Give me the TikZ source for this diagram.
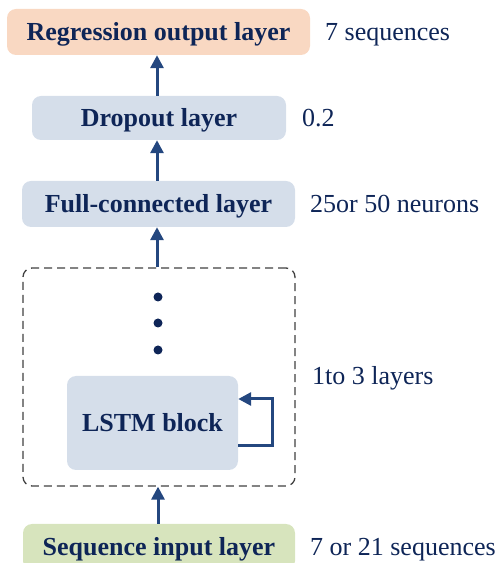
\documentclass[tikz,border=0pt]{standalone}
\usepackage{fontspec}
\setmainfont{Liberation Serif}
\usetikzlibrary{arrows.meta}
\definecolor{txt}{HTML}{0E2557}
\definecolor{arr}{HTML}{24477F}
\definecolor{boxblue}{HTML}{D5DEEA}
\definecolor{boxpeach}{HTML}{F9D8C2}
\definecolor{boxgreen}{HTML}{D7E4BD}
\tikzset{
  layer/.style={rounded corners=9pt, inner sep=0pt, text=txt, text height=18pt, text depth=0pt, font=\fontsize{26}{30}\selectfont\bfseries},
  note/.style={anchor=west, text=txt, text height=18pt, text depth=0pt, font=\fontsize{26}{30}\selectfont, inner sep=0pt},
  flow/.style={draw=arr, line width=3pt, -{Triangle[length=13pt,width=13pt]}},
}
\begin{document}
\begin{tikzpicture}[x=1pt,y=1pt]
\useasboundingbox (0,0) rectangle (500,563);
% boxes
\node[layer, fill=boxpeach, minimum width=303pt, minimum height=46pt] (reg) at (158.5,531) {Regression output layer};
\node[layer, fill=boxblue, minimum width=254pt, minimum height=44pt] (drop) at (159,445) {Dropout layer};
\node[layer, fill=boxblue, minimum width=273pt, minimum height=46pt] (fc) at (158.5,359) {Full-connected layer};
\node[draw=black!75, dash pattern=on 8pt off 5pt, line width=1.3pt, rounded corners=9pt, minimum width=272pt, minimum height=218pt] (grp) at (159,186) {};
\node[layer, fill=boxblue, minimum width=171pt, minimum height=94pt] (lstm) at (152.5,140) {LSTM block};
\node[layer, fill=boxgreen, minimum width=272pt, minimum height=46pt] (inp) at (159,16) {Sequence input layer};
% dots
\fill[txt] (158,266) circle (4.5pt) coordinate (d1);
\fill[txt] (158,240) circle (4.5pt) coordinate (d2);
\fill[txt] (158,213) circle (4.5pt) coordinate (d3);
% notes
\node[note] (n1) at (325,531) {7 sequences};
\node[note] (n2) at (302,445) {0.2};
\node[note] (n3) at (310,359) {25or 50 neurons};
\node[note] (n4) at (312,187) {1to 3 layers};
\node[note] (n5) at (310,16) {7 or 21 sequences};
% arrows
\draw[flow] (drop.north -| 157,0) -- (reg.south -| 157,0);
\draw[flow] (fc.north -| 157,0) -- (drop.south -| 157,0);
\draw[flow] (grp.north -| 157,0) -- (fc.south -| 157,0);
\draw[flow] (inp.north -| 158,0) -- (grp.south -| 158,0);
\coordinate (l1) at ([yshift=-23pt]lstm.east);
\coordinate (l2) at ([yshift=24pt]lstm.east);
\draw[flow] (l1) -- ++(34pt,0) |- (l2);
\end{tikzpicture}
\end{document}
